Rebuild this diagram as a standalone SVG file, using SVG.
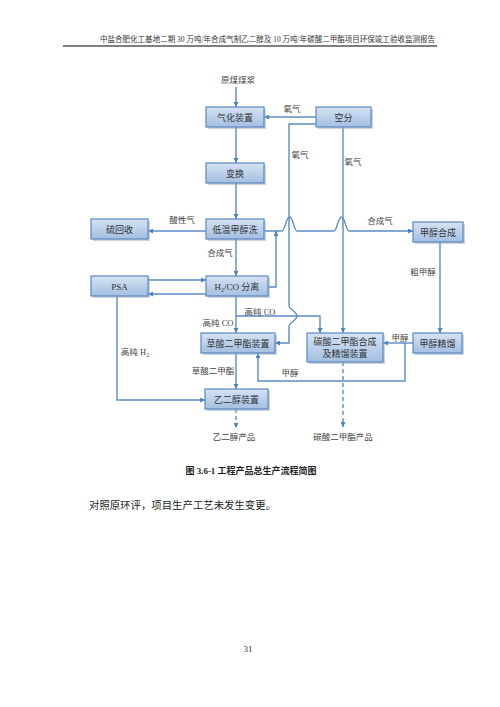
<svg xmlns="http://www.w3.org/2000/svg" width="500" height="707" viewBox="0 0 500 707">
<defs>
<linearGradient id="bx" x1="0" y1="0" x2="0" y2="1">
<stop offset="0" stop-color="#d6e3f3"/>
<stop offset="1" stop-color="#a3bfe2"/>
</linearGradient>
<marker id="ar" viewBox="0 0 10 10" refX="10" refY="5" markerWidth="5" markerHeight="5" orient="auto" markerUnits="userSpaceOnUse">
<path d="M0,0 L10,5 L0,10 z" fill="#4f81bd"/>
</marker>
</defs>
<style>
.b{fill:url(#bx);stroke:#5a88c0;stroke-width:1.2}
.s{fill:#9aa9ba;opacity:0.5}
.t{font-family:"Liberation Serif","Noto Sans CJK SC",serif;font-size:9px;fill:#333;text-anchor:middle}
.l{font-family:"Liberation Serif","Noto Sans CJK SC",serif;font-size:8.5px;fill:#444;text-anchor:middle}
.c{fill:none;stroke:#5b8cc6;stroke-width:1.4}
.d{fill:none;stroke:#5b8cc6;stroke-width:1.4;stroke-dasharray:4,3}
</style>
<rect width="500" height="707" fill="#fff"/>
<text x="100" y="42" font-family="Liberation Serif,'Noto Sans CJK SC',serif" font-size="7.5" fill="#333" textLength="335" lengthAdjust="spacingAndGlyphs">中盐合肥化工基地二期 30 万吨/年合成气制乙二醇及 10 万吨/年碳酸二甲酯项目环保竣工验收监测报告</text>
<line x1="63" y1="46" x2="437" y2="46" stroke="#555" stroke-width="1.5"/>

<g id="connectors">
<text class="l" x="238" y="83">原煤煤浆</text>
<path class="c" d="M236,87 V107" marker-end="url(#ar)"/>
<path class="c" d="M316,117 H264" marker-end="url(#ar)"/>
<text class="l" x="292" y="112">氧气</text>
<path class="c" d="M316,124 H289 V306 C289,309 297,312 297,316 C297,320 289,323 289,326 V343 H275" marker-end="url(#ar)"/>
<text class="l" x="300" y="158">氧气</text>
<path class="c" d="M343,127 V333" marker-end="url(#ar)"/>
<text class="l" x="353" y="165">氧气</text>
<path class="c" d="M236,127 V163" marker-end="url(#ar)"/>
<path class="c" d="M236,183 V219" marker-end="url(#ar)"/>
<path class="c" d="M206,231 H148" marker-end="url(#ar)"/>
<text class="l" x="182" y="223">酸性气</text>
<path class="c" d="M264,231 H282 C285,231 286,217 289.5,217 C293,217 294,231 297,231 H334 C337,231 338,217 341.5,217 C345,217 346,231 349,231 H413" marker-end="url(#ar)"/>
<text class="l" x="380" y="224">合成气</text>
<path class="c" d="M268,287 H276 V231" marker-end="url(#ar)"/>
<path class="c" d="M236,239 V276" marker-end="url(#ar)"/>
<text class="l" x="220" y="256">合成气</text>
<path class="c" d="M148,280 H206" marker-end="url(#ar)"/>
<path class="c" d="M206,294 H148" marker-end="url(#ar)"/>
<path class="c" d="M117,296 V400 H205" marker-end="url(#ar)"/>
<text class="l" x="135" y="355">高纯 H<tspan font-size="6" dy="2">2</tspan></text>
<path class="c" d="M236,296 V333" marker-end="url(#ar)"/>
<text class="l" x="218" y="326">高纯 CO</text>
<path class="c" d="M236,316 H320 V333" marker-end="url(#ar)"/>
<text class="l" x="260" y="315">高纯 CO</text>
<path class="c" d="M236,353 V389" marker-end="url(#ar)"/>
<text class="l" x="213" y="374">草酸二甲酯</text>
<path class="d" d="M236,409 V428" marker-end="url(#ar)"/>
<text class="l" x="234" y="440">乙二醇产品</text>
<path class="c" d="M440,242 V333" marker-end="url(#ar)"/>
<text class="l" x="423" y="275">粗甲醇</text>
<path class="c" d="M413,343 H383" marker-end="url(#ar)"/>
<text class="l" x="400" y="341">甲醇</text>
<path class="c" d="M405,343 V381 H258 V353" marker-end="url(#ar)"/>
<text class="l" x="290" y="376">甲醇</text>
<path class="d" d="M343,362 V427" marker-end="url(#ar)"/>
<text class="l" x="343" y="440">碳酸二甲酯产品</text>
</g>

<g id="n-gasify"><rect class="s" x="208" y="109" width="58" height="20"/><rect class="b" x="206" y="107" width="58" height="20"/><text class="t" x="235" y="120.5">气化装置</text></g>
<g id="n-asu"><rect class="s" x="318" y="109" width="55" height="20"/><rect class="b" x="316" y="107" width="55" height="20"/><text class="t" x="343.5" y="120.5">空分</text></g>
<g id="n-shift"><rect class="s" x="208" y="165" width="58" height="20"/><rect class="b" x="206" y="163" width="58" height="20"/><text class="t" x="235" y="176.5">变换</text></g>
<g id="n-rectisol"><rect class="s" x="208" y="221" width="58" height="20"/><rect class="b" x="206" y="219" width="58" height="20"/><text class="t" x="235" y="232.5">低温甲醇洗</text></g>
<g id="n-sulfur"><rect class="s" x="93" y="221" width="57" height="20"/><rect class="b" x="91" y="219" width="57" height="20"/><text class="t" x="119.5" y="232.5">硫回收</text></g>
<g id="n-mesyn"><rect class="s" x="415" y="224" width="50" height="20"/><rect class="b" x="413" y="222" width="50" height="20"/><text class="t" x="438" y="235.5">甲醇合成</text></g>
<g id="n-psa"><rect class="s" x="93" y="278" width="57" height="20"/><rect class="b" x="91" y="276" width="57" height="20"/><text class="t" x="119.5" y="289.5">PSA</text></g>
<g id="n-h2co"><rect class="s" x="208" y="278" width="62" height="20"/><rect class="b" x="206" y="276" width="62" height="20"/><text class="t" x="237" y="289.5">H<tspan font-size="6" dy="2">2</tspan><tspan dy="-2">/CO 分离</tspan></text></g>
<g id="n-dmo"><rect class="s" x="203" y="335" width="74" height="20"/><rect class="b" x="201" y="333" width="74" height="20"/><text class="t" x="238" y="346.5">草酸二甲酯装置</text></g>
<g id="n-dmc"><rect class="s" x="309" y="335" width="76" height="29"/><rect class="b" x="307" y="333" width="76" height="29"/><text class="t" x="345" y="345">碳酸二甲酯合成</text><text class="t" x="345" y="357">及精馏装置</text></g>
<g id="n-medist"><rect class="s" x="415" y="335" width="49" height="20"/><rect class="b" x="413" y="333" width="49" height="20"/><text class="t" x="437.5" y="346.5">甲醇精馏</text></g>
<g id="n-eg"><rect class="s" x="207" y="391" width="63" height="20"/><rect class="b" x="205" y="389" width="63" height="20"/><text class="t" x="236.5" y="402.5">乙二醇装置</text></g>

<text x="251" y="474" font-family="Liberation Serif,'Noto Sans CJK SC',serif" font-size="9" font-weight="bold" fill="#222" text-anchor="middle">图 3.6-1  工程产品总生产流程简图</text>
<text x="89" y="509" font-family="Liberation Serif,'Noto Sans CJK SC',serif" font-size="10.4" fill="#222">对照原环评，项目生产工艺未发生变更。</text>
<text x="248" y="652" font-family="Liberation Serif,'Noto Sans CJK SC',serif" font-size="9" fill="#333" text-anchor="middle">31</text>
</svg>
